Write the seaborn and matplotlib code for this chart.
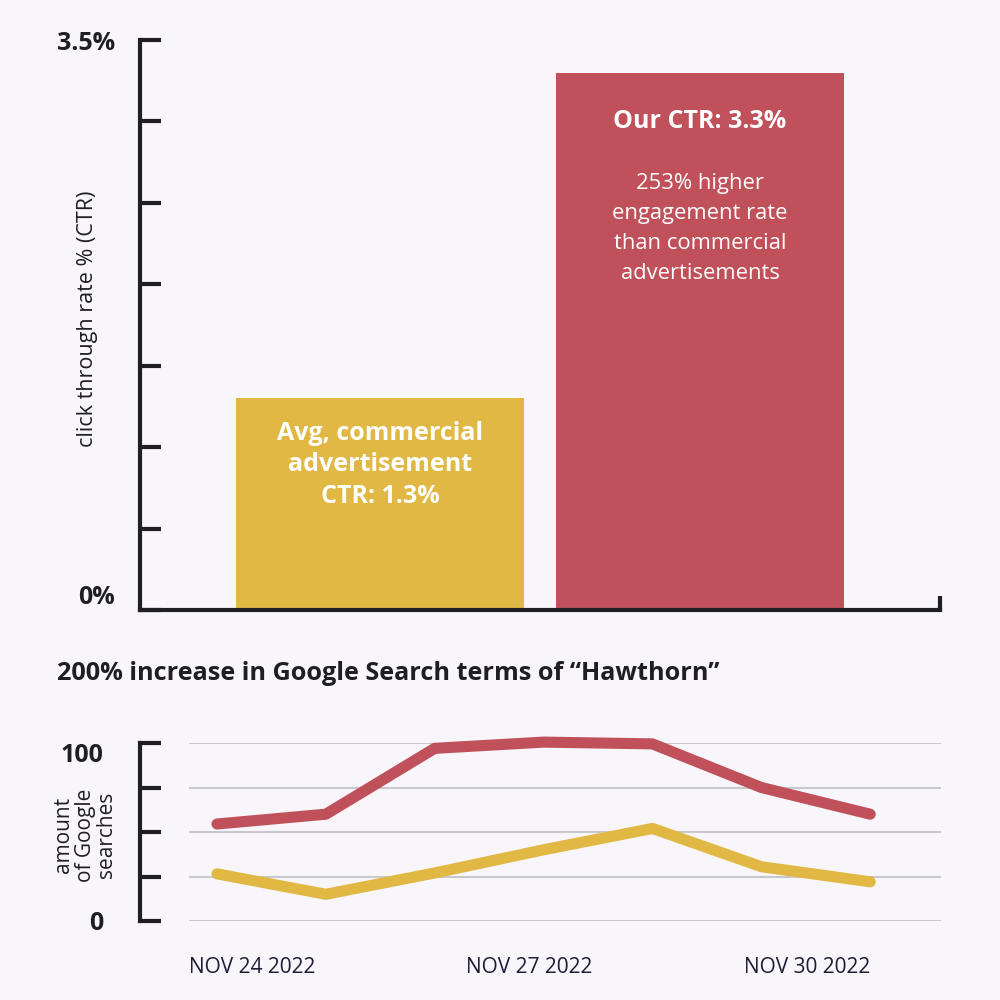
import numpy as np
import pandas as pd
import matplotlib.pyplot as plt
import seaborn as sns

# --- CTR bar chart data ---
bar_groups = ['commercial', 'ours']
ctr_values = [1.3, 3.3]
bar_texts = ['Avg, commercial\nadvertisement\nCTR: 1.3%', 'Our CTR: 3.3%']
bar_note = '253% higher\nengagement rate\nthan commercial\nadvertisements'
ctr_ticks = [0, 0.5, 1.0, 1.5, 2.0, 2.5, 3.0, 3.5]
ctr_ticklabels = ['0%', '', '', '', '', '', '', '3.5%']

# --- Google search line chart data (Nov 24 - Nov 30 2022) ---
days = [0, 1, 2, 3, 4, 5, 6]
day_labels = ['NOV 24 2022', 'NOV 27 2022', 'NOV 30 2022']
hawthorn_searches = [54.5, 60, 97, 100.5, 99.5, 75, 60]
other_searches = [26.5, 15, 27, 40, 52, 30.5, 22]
search_ticks = [0, 25, 50, 75, 100]
search_ticklabels = ['0', '', '', '', '100']

RED = '#c0515a'
YELLOW = '#e1b844'
BG = '#f8f6fa'
INK = '#1e1e24'
NAVY = '#1d1d33'

sns.set_theme(style='white', rc={'figure.facecolor': BG, 'axes.facecolor': BG})
plt.rcParams['font.family'] = ['Open Sans', 'DejaVu Sans']

fig = plt.figure(figsize=(10, 10), dpi=100)

# ---------------- top: bar chart ----------------
ax1 = fig.add_axes([0.14, 0.39, 0.80, 0.57])
bar_df = pd.DataFrame({'group': bar_groups, 'ctr': ctr_values})
sns.barplot(data=bar_df, x='group', y='ctr', hue='group',
            palette=[YELLOW, RED], width=0.9, saturation=1,
            legend=False, linewidth=0, ax=ax1)
ax1.set_xlim(-0.75, 1.75)
ax1.set_ylim(0, 3.5)
sns.despine(ax=ax1)
for side in ['left', 'bottom']:
    ax1.spines[side].set_linewidth(3)
    ax1.spines[side].set_color(INK)

ax1.set_yticks(ctr_ticks)
ax1.set_yticklabels(ctr_ticklabels)
ax1.tick_params(axis='y', direction='in', length=15, width=3, color=INK,
                pad=18, labelsize=18, labelcolor=INK, left=True)
for lbl in ax1.get_yticklabels():
    lbl.set_fontweight('bold')
ax1.get_yticklabels()[0].set_va('bottom')
ax1.get_yticklabels()[-1].set_va('center_baseline')

ax1.set_xticks([ax1.get_xlim()[1]])
ax1.set_xticklabels([''])
ax1.tick_params(axis='x', direction='in', length=10, width=3, color=INK, bottom=True)
ax1.set_xlabel('')
ax1.set_ylabel('click through rate % (CTR)', fontsize=15.5, color=INK, va='center')
ax1.yaxis.set_label_coords(-0.065, 0.511)

ax1.annotate(bar_texts[0], xy=(0, ctr_values[0]), xytext=(0, -16),
             textcoords='offset points', ha='center', va='top',
             color='white', fontsize=18, fontweight='bold', linespacing=1.36)
ax1.annotate(bar_texts[1], xy=(1, ctr_values[1]), xytext=(0, -26),
             textcoords='offset points', ha='center', va='top',
             color='white', fontsize=18, fontweight='bold')
ax1.annotate(bar_note, xy=(1, ctr_values[1]), xytext=(0, -72),
             textcoords='offset points', ha='center', va='top',
             color='white', fontsize=15.8, linespacing=1.57)

# ---------------- bottom: line chart ----------------
fig.text(0.057, 1 - 0.674, '200% increase in Google Search terms of \u201cHawthorn\u201d',
         ha='left', va='center', fontsize=18.2, fontweight='bold', color=INK)

ax2 = fig.add_axes([0.189, 0.079, 0.752, 0.178])
line_df = pd.DataFrame({
    'day': days * 2,
    'searches': hawthorn_searches + other_searches,
    'series': ['hawthorn'] * len(days) + ['other'] * len(days),
})
sns.lineplot(data=line_df, x='day', y='searches', hue='series',
             palette={'hawthorn': RED, 'other': YELLOW}, linewidth=8,
             legend=False, ax=ax2, solid_capstyle='round',
             solid_joinstyle='round', clip_on=False)
xmin = -0.257
ax2.set_xlim(xmin, 6.65)
ax2.set_ylim(0, 100)
ax2.set_axisbelow(True)
ax2.grid(axis='y', color='#c9c8cd', linewidth=1.5)
for side in ['top', 'right', 'bottom']:
    ax2.spines[side].set_visible(False)
ax2.spines['left'].set_position(('outward', 35))
ax2.spines['left'].set_linewidth(3)
ax2.spines['left'].set_color(INK)

ax2.set_yticks(search_ticks)
ax2.set_yticklabels(search_ticklabels)
ax2.tick_params(axis='y', direction='in', length=15, width=3, color=INK,
                pad=27, labelsize=18, labelcolor=INK, left=True)
for lbl in ax2.get_yticklabels():
    lbl.set_fontweight('bold')
ax2.get_yticklabels()[-1].set_va('top')

ax2.set_xticks([xmin, (xmin + days[-1]) / 2, days[-1]])
ax2.set_xticklabels(day_labels)
ax2.tick_params(axis='x', length=0, pad=26, labelsize=15, labelcolor=NAVY)
for lbl, ha in zip(ax2.get_xticklabels(), ['left', 'center', 'right']):
    lbl.set_ha(ha)
ax2.set_xlabel('')
ax2.set_ylabel('amount\nof Google\nsearches', fontsize=15, color=INK,
               va='center', linespacing=1.03)
ax2.yaxis.set_label_coords(-0.138, 0.483)

fig.savefig('out.png', dpi=100, facecolor=BG)
